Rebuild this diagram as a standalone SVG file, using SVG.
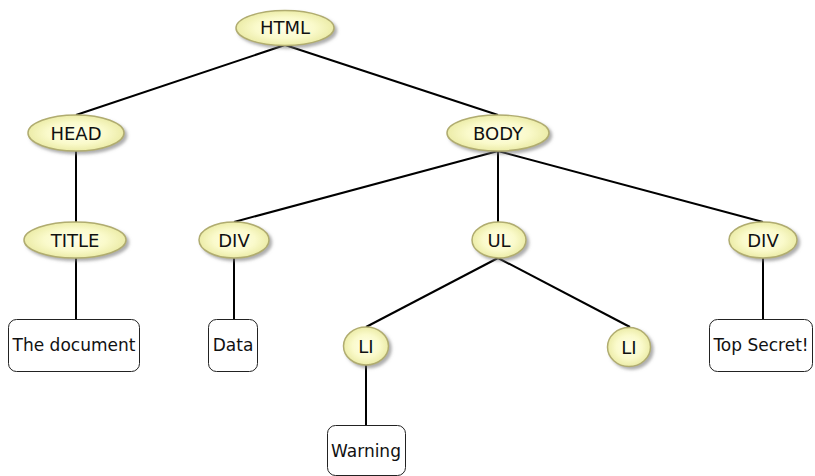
<svg xmlns="http://www.w3.org/2000/svg" width="815" height="476" viewBox="0 0 815 476">
<defs>
<radialGradient id="g" cx="50%" cy="50%" r="50%">
<stop offset="0" stop-color="#ffffea"/>
<stop offset="0.6" stop-color="#fafacb"/>
<stop offset="1" stop-color="#ececa8"/>
</radialGradient>
<filter id="sh" x="-20%" y="-30%" width="150%" height="170%">
<feDropShadow dx="2.5" dy="2.5" stdDeviation="1.5" flood-color="#777" flood-opacity="0.6"/>
</filter>
</defs>
<style>
.e{fill:url(#g);stroke:#b0ac70;stroke-width:1.5;filter:url(#sh)}
.b{fill:#fff;stroke:#222;stroke-width:1}
text{font-family:"DejaVu Sans",sans-serif;font-size:18px;fill:#111;text-anchor:middle}
.n{font-size:17px}
.c line{stroke:#000;stroke-width:2}
</style>
<g class="c" id="connectors">
<line x1="285" y1="45" x2="76" y2="115"/>
<line x1="285" y1="45" x2="498" y2="115"/>
<line x1="76" y1="151" x2="76" y2="222"/>
<line x1="498" y1="151" x2="234" y2="222"/>
<line x1="498" y1="151" x2="498" y2="222"/>
<line x1="498" y1="151" x2="763" y2="222"/>
<line x1="76" y1="258" x2="76" y2="319"/>
<line x1="234" y1="258" x2="234" y2="319"/>
<line x1="498" y1="258" x2="366" y2="327"/>
<line x1="498" y1="258" x2="630" y2="327"/>
<line x1="763" y1="258" x2="763" y2="319"/>
<line x1="366" y1="365" x2="366" y2="425"/>
</g>
<g id="html"><ellipse class="e" cx="285" cy="28" rx="49" ry="17.5"/><text x="285" y="34">HTML</text></g>
<g id="head"><ellipse class="e" cx="76" cy="133" rx="48" ry="18"/><text x="76" y="139.5">HEAD</text></g>
<g id="body"><ellipse class="e" cx="498" cy="133" rx="51" ry="18"/><text x="498" y="139.5">BODY</text></g>
<g id="title"><ellipse class="e" cx="75" cy="240" rx="51" ry="18"/><text x="75" y="246.5">TITLE</text></g>
<g id="div1"><ellipse class="e" cx="234" cy="240" rx="35" ry="18"/><text x="234" y="246.5">DIV</text></g>
<g id="ul"><ellipse class="e" cx="499" cy="240" rx="27" ry="18"/><text x="499" y="246.5">UL</text></g>
<g id="div2"><ellipse class="e" cx="763" cy="240" rx="34" ry="18"/><text x="763" y="246.5">DIV</text></g>
<g id="li1"><ellipse class="e" cx="366" cy="346" rx="22.5" ry="19"/><text x="366" y="352.5">LI</text></g>
<g id="li2"><ellipse class="e" cx="629" cy="347" rx="21.5" ry="19.5"/><text x="629" y="353.5">LI</text></g>
<g id="doc"><rect class="b" x="8.5" y="319.5" width="131" height="52" rx="8"/><text class="n" x="74" y="351">The document</text></g>
<g id="data"><rect class="b" x="208.5" y="319.5" width="49" height="52" rx="8"/><text class="n" x="233" y="351">Data</text></g>
<g id="secret"><rect class="b" x="709.5" y="319.5" width="103" height="52" rx="8"/><text class="n" x="761" y="351">Top Secret!</text></g>
<g id="warning"><rect class="b" x="327.5" y="425.5" width="78" height="50" rx="8"/><text class="n" x="366" y="457">Warning</text></g>
</svg>
